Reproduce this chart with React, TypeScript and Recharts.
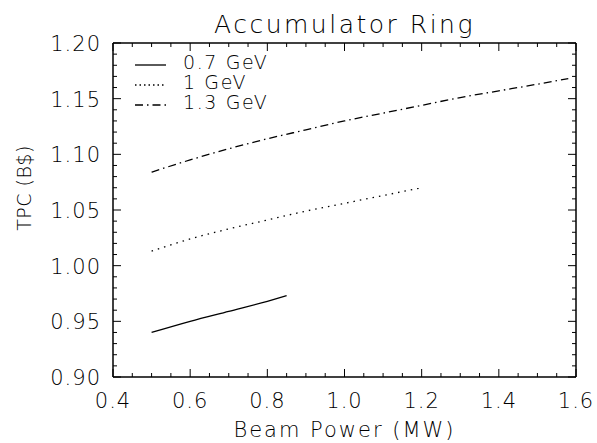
import React from "react";
import { LineChart, Line, XAxis, YAxis, Legend } from "recharts";

// beam power (MW) and total project cost (B$) per energy
const power07 = [0.5, 0.6, 0.7, 0.8, 0.85];
const tpc07 = [0.94, 0.95, 0.959, 0.968, 0.973];

const power10 = [0.5, 0.6, 0.7, 0.8, 0.9, 1.0, 1.1, 1.2];
const tpc10 = [1.013, 1.024, 1.033, 1.041, 1.049, 1.056, 1.063, 1.07];

const power13 = [0.5, 0.6, 0.7, 0.8, 0.9, 1.0, 1.1, 1.2, 1.3, 1.4, 1.5, 1.58];
const tpc13 = [1.084, 1.095, 1.105, 1.114, 1.122, 1.13, 1.137, 1.144, 1.151, 1.157, 1.163, 1.168];

const seriesNames = ["0.7 GeV", "1 GeV", "1.3 GeV"];
const dashes = ["", "1.5 5", "8 4 1.5 4"];
const legendDashes = ["", "1.5 3", "8 4 1.5 4"];

const xMajor = [0.4, 0.6, 0.8, 1.0, 1.2, 1.4, 1.6];
const yMajor = [0.9, 0.95, 1.0, 1.05, 1.1, 1.15, 1.2];

const xTicks: number[] = [];
for (let i = 0; i <= 24; i++) xTicks.push(+(0.4 + i * 0.05).toFixed(2));
const yTicks: number[] = [];
for (let i = 0; i <= 30; i++) yTicks.push(+(0.9 + i * 0.01).toFixed(2));

const zip = (xs: number[], ys: number[]) => xs.map((x, i) => ({ x, y: ys[i] }));
const series = [zip(power07, tpc07), zip(power10, tpc10), zip(power13, tpc13)];

const FONT = "'DejaVu Sans', sans-serif";
const isMajor = (v: number, list: number[]) => list.some((m) => Math.abs(m - v) < 1e-6);

const BottomTick = ({ x, y, payload }: any) => {
  const major = isMajor(payload.value, xMajor);
  return (
    <g>
      <line x1={x} x2={x} y1={y} y2={y - (major ? 8 : 4)} stroke="#000" />
      {major && (
        <text x={x} y={y + 31} textAnchor="middle" fontSize={21} fontWeight={200} fontFamily={FONT} letterSpacing={1} fill="#000">
          {payload.value.toFixed(1)}
        </text>
      )}
    </g>
  );
};

const TopTick = ({ x, y, payload }: any) => {
  const major = isMajor(payload.value, xMajor);
  return <line x1={x} x2={x} y1={y} y2={y + (major ? 8 : 4)} stroke="#000" />;
};

const LeftTick = ({ x, y, payload }: any) => {
  const major = isMajor(payload.value, yMajor);
  return (
    <g>
      <line x1={x} x2={x + (major ? 8 : 4)} y1={y} y2={y} stroke="#000" />
      {major && (
        <text x={x - 12} y={y + 8} textAnchor="end" fontSize={21} fontWeight={200} fontFamily={FONT} letterSpacing={1} fill="#000">
          {payload.value.toFixed(2)}
        </text>
      )}
    </g>
  );
};

const RightTick = ({ x, y, payload }: any) => {
  const major = isMajor(payload.value, yMajor);
  return <line x1={x} x2={x - (major ? 8 : 4)} y1={y} y2={y} stroke="#000" />;
};

const LegendBox = () => (
  <div style={{ fontFamily: FONT, fontSize: 19, fontWeight: 200, lineHeight: "20px", letterSpacing: 1.6, color: "#000" }}>
    {seriesNames.map((name, i) => (
      <div key={name} style={{ display: "flex", alignItems: "center", height: 20 }}>
        <svg width={34} height={20}>
          <line x1={2} x2={33} y1={13} y2={13} stroke="#000" strokeWidth={1.3} strokeDasharray={legendDashes[i] || undefined} />
        </svg>
        <span style={{ marginLeft: 16 }}>{name}</span>
      </div>
    ))}
  </div>
);

export default function App() {
  return (
    <div style={{ position: "absolute", left: 0, top: 0, background: "#fff" }}>
      <LineChart width={597} height={443} margin={{ top: 42, right: 20, bottom: 0, left: 0 }}>
        <XAxis
          xAxisId="b"
          dataKey="x"
          type="number"
          domain={[0.4, 1.6]}
          ticks={xTicks}
          interval={0}
          height={66}
          tickSize={0}
          tickMargin={0}
          tickLine={false}
          tick={<BottomTick />}
          axisLine={{ stroke: "#000", strokeWidth: 1.5 }}
          allowDataOverflow
          label={({ viewBox }: any) => (
            <text x={viewBox.x + viewBox.width / 2} y={437} textAnchor="middle" fontSize={21} fontWeight={200} fontFamily={FONT} letterSpacing={2} fill="#000">
              Beam Power (MW)
            </text>
          )}
        />
        <XAxis
          xAxisId="t"
          orientation="top"
          dataKey="x"
          type="number"
          domain={[0.4, 1.6]}
          ticks={xTicks}
          interval={0}
          height={1}
          tickSize={0}
          tickMargin={0}
          tickLine={false}
          tick={<TopTick />}
          axisLine={{ stroke: "#000", strokeWidth: 1.5 }}
          allowDataOverflow
          label={({ viewBox }: any) => (
            <text x={viewBox.x + viewBox.width / 2} y={33} textAnchor="middle" fontSize={25} fontWeight={200} fontFamily={FONT} letterSpacing={2.5} fill="#000">
              Accumulator Ring
            </text>
          )}
        />
        <YAxis
          yAxisId="l"
          type="number"
          domain={[0.9, 1.2]}
          ticks={yTicks}
          interval={0}
          width={113}
          tickSize={0}
          tickMargin={0}
          tickLine={false}
          tick={<LeftTick />}
          axisLine={{ stroke: "#000", strokeWidth: 1.5 }}
          allowDataOverflow
          label={({ viewBox }: any) => {
            const cy = viewBox.y + viewBox.height / 2 - 22;
            return (
              <text x={31} y={cy} transform={`rotate(-90 31 ${cy})`} textAnchor="middle" fontSize={19} fontWeight={200} fontFamily={FONT} letterSpacing={0.5} fill="#000">
                TPC (B$)
              </text>
            );
          }}
        />
        <YAxis
          yAxisId="r"
          orientation="right"
          type="number"
          domain={[0.9, 1.2]}
          ticks={yTicks}
          interval={0}
          width={1}
          tickSize={0}
          tickMargin={0}
          tickLine={false}
          tick={<RightTick />}
          axisLine={{ stroke: "#000", strokeWidth: 1.5 }}
          allowDataOverflow
        />
        <Legend
          layout="vertical"
          verticalAlign="middle"
          align="center"
          content={<LegendBox />}
          wrapperStyle={{ position: "absolute", left: 133, top: 52, width: "auto" }}
        />
        {series.map((d, i) => (
          <Line
            key={seriesNames[i]}
            data={d}
            dataKey="y"
            name={seriesNames[i]}
            xAxisId="b"
            yAxisId="l"
            type="monotone"
            stroke="#000"
            strokeWidth={1.3}
            strokeDasharray={dashes[i] || undefined}
            dot={false}
            isAnimationActive={false}
          />
        ))}
      </LineChart>
    </div>
  );
}
